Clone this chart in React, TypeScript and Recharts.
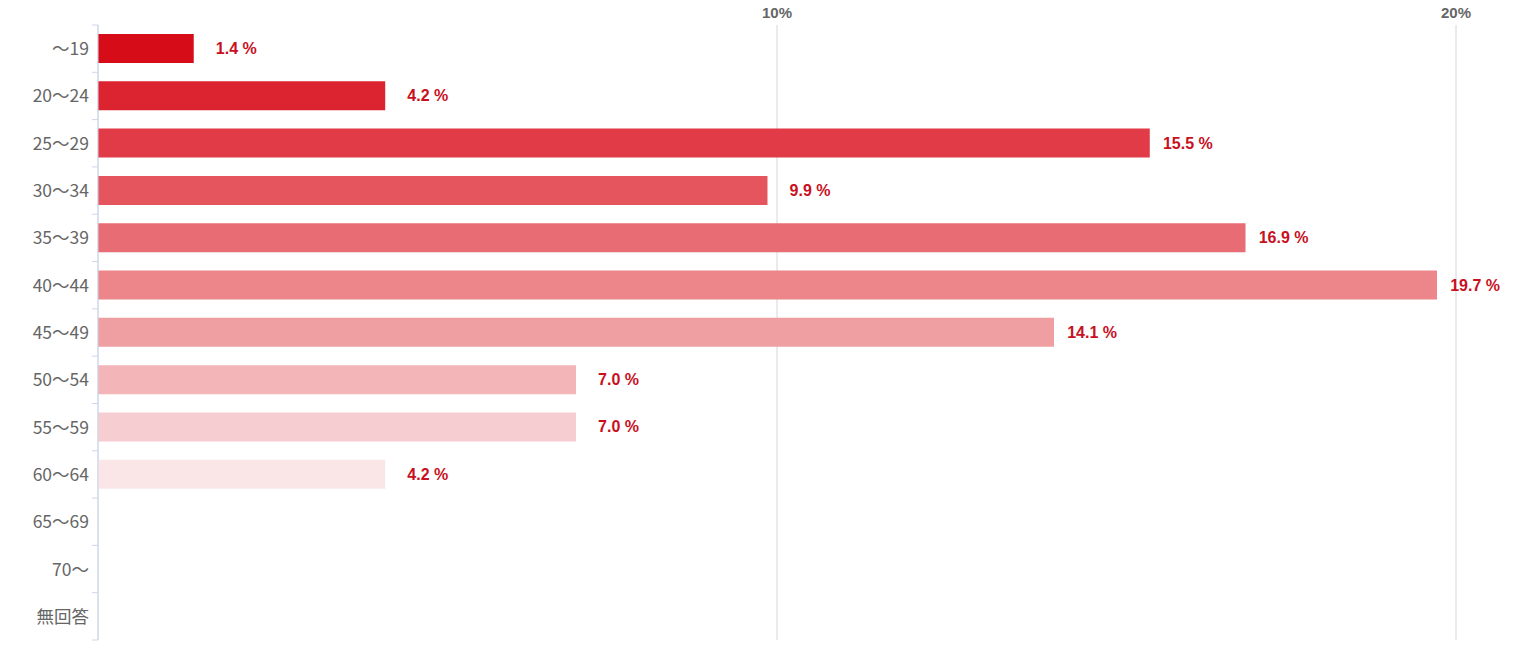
import React from 'react';
import { BarChart, Bar, XAxis, YAxis, CartesianGrid, Cell, LabelList } from 'recharts';

const categories = ['～19', '20～24', '25～29', '30～34', '35～39', '40～44', '45～49', '50～54', '55～59', '60～64', '65～69', '70～', '無回答'];
const values = [1.41, 4.23, 15.49, 9.86, 16.9, 19.72, 14.08, 7.04, 7.04, 4.23, 0, 0, 0];
const colors = ['#d70c19', '#dc2431', '#e03b47', '#e4555e', '#e86c74', '#ec868b', '#ef9ea2', '#f3b5b7', '#f6ced1', '#fae6e7', '#fdf2f3', '#fdf2f3', '#fdf2f3'];
const xTicks = [10, 20];

const data = categories.map((c, i) => ({ name: c, value: values[i] }));

const W = 1520;
const H = 651;
const M = { top: 0, right: 64, left: 0, bottom: 11 };
const X_AXIS_H = 25;
const Y_AXIS_W = 98;
const PLOT_TOP = M.top + X_AXIS_H;
const PLOT_BOTTOM = H - M.bottom;
const BAND = (PLOT_BOTTOM - PLOT_TOP) / categories.length;
const AXIS_COLOR = '#ccd6eb';

const YTick = (props: any) => {
  const { y, payload, index } = props;
  const ax = Y_AXIS_W;
  const top = y - BAND / 2;
  return (
    <g>
      <line x1={ax - 6} x2={ax} y1={top} y2={top} stroke={AXIS_COLOR} strokeWidth={1} />
      {index === categories.length - 1 && (
        <line x1={ax - 6} x2={ax} y1={top + BAND} y2={top + BAND} stroke={AXIS_COLOR} strokeWidth={1} />
      )}
      <text x={ax - 9} y={y - 1} textAnchor="end" dominantBaseline="central" fill="#666666" fontSize={17.5} fontFamily="'Noto Sans CJK JP', 'Open Sans', sans-serif">
        {payload.value}
      </text>
    </g>
  );
};

const XTick = (props: any) => {
  const { x, payload } = props;
  return (
    <text x={x} y={18} textAnchor="middle" fill="#666666" fontSize={15} fontWeight="bold" fontFamily="'Liberation Sans', Arial, sans-serif">
      {payload.value}%
    </text>
  );
};

const ValueLabel = (props: any) => {
  const { x, y, width, height, value } = props;
  if (!value) return null;
  return (
    <text x={x + width + 63} y={y + height / 2} textAnchor="end" dominantBaseline="central" fill="#c8101e" fontSize={16} fontWeight="bold" fontFamily="'Liberation Sans', Arial, sans-serif">
      {value.toFixed(1)} %
    </text>
  );
};

export default function App() {
  return (
    <div style={{ position: 'absolute', left: 0, top: 0, width: W, height: H, background: '#ffffff' }}>
      <BarChart width={W} height={H} data={data} layout="vertical" margin={M} barSize={29}>
        <CartesianGrid horizontal={false} vertical={true} stroke="#d3d6db" strokeDasharray="" />
        <XAxis type="number" orientation="top" domain={[0, 20]} ticks={xTicks} height={X_AXIS_H} axisLine={false} tickLine={false} tick={<XTick />} interval={0} />
        <YAxis type="category" dataKey="name" width={Y_AXIS_W} axisLine={{ stroke: AXIS_COLOR }} tickLine={false} tick={<YTick />} interval={0} />
        <Bar dataKey="value" isAnimationActive={false}>
          {data.map((d, i) => (
            <Cell key={d.name} fill={colors[i]} />
          ))}
          <LabelList dataKey="value" content={<ValueLabel />} />
        </Bar>
      </BarChart>
    </div>
  );
}
